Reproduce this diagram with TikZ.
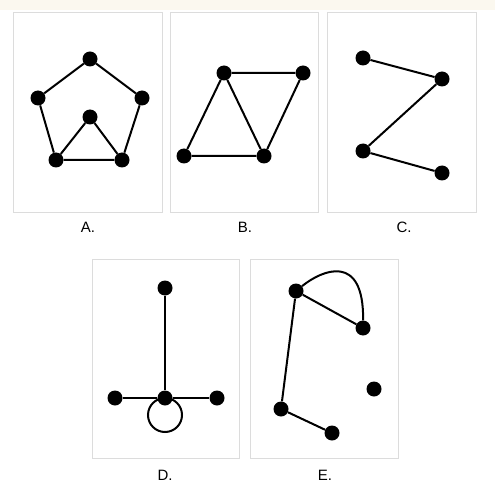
\documentclass[tikz,border=0pt]{standalone}
\usepackage{fontspec}
\setmainfont{Liberation Sans}
\definecolor{band}{HTML}{FBF8EF}
\definecolor{frame}{HTML}{DCDCDC}
\begin{document}
\begin{tikzpicture}[x=1bp,y=-1bp,
  vtx/.style={circle,fill=black,inner sep=0pt,minimum size=15bp},
  edge/.style={line width=2bp,black},
  panel/.style={draw=frame,line width=1bp},
  lab/.style={font=\fontsize{15bp}{17bp}\selectfont,inner sep=0pt}]
\useasboundingbox (0,0) rectangle (495,498);
\fill[white] (0,0) rectangle (495,498);
\fill[band] (0,0) rectangle (495,10);
% panels
\draw[panel] (13,13) rectangle (162,212);
\draw[panel] (170,13) rectangle (318,212);
\draw[panel] (327,13) rectangle (476,212);
\draw[panel] (92,259) rectangle (239,458);
\draw[panel] (250,259) rectangle (398,458);
% A
\node[vtx] (a1) at (90,59) {};
\node[vtx] (a2) at (38,98) {};
\node[vtx] (a3) at (142,98) {};
\node[vtx] (a4) at (90,117) {};
\node[vtx] (a5) at (56,160) {};
\node[vtx] (a6) at (122,160) {};
\draw[edge] (a1) -- (a2) (a1) -- (a3) (a2) -- (a5) (a3) -- (a6) (a5) -- (a6) (a4) -- (a5) (a4) -- (a6);
\node[lab] (la) at (88,227) {A.};
% B
\node[vtx] (b1) at (224,73) {};
\node[vtx] (b2) at (303,73) {};
\node[vtx] (b3) at (184,156) {};
\node[vtx] (b4) at (264,156) {};
\draw[edge] (b1) -- (b2) (b1) -- (b3) (b1) -- (b4) (b3) -- (b4) (b2) -- (b4);
\node[lab] (lb) at (245,227) {B.};
% C
\node[vtx] (c1) at (363,58) {};
\node[vtx] (c2) at (442,79) {};
\node[vtx] (c3) at (363,151) {};
\node[vtx] (c4) at (442,173) {};
\draw[edge] (c1) -- (c2) (c2) -- (c3) (c3) -- (c4);
\node[lab] (lc) at (404,227) {C.};
% D
\node[vtx] (d1) at (165,288) {};
\node[vtx] (d2) at (165,398) {};
\node[vtx] (d3) at (115,398) {};
\node[vtx] (d4) at (217,398) {};
\draw[edge] (d1) -- (d2) (d3) -- (d2) -- (d4);
\draw[edge] (d2.center) arc[start angle=90,end angle=450,radius=17bp];
\node[lab] (ld) at (165,475) {D.};
% E
\node[vtx] (e1) at (296,291) {};
\node[vtx] (e2) at (363,328) {};
\node[vtx] (e3) at (374,389) {};
\node[vtx] (e4) at (281,409) {};
\node[vtx] (e5) at (332,433) {};
\draw[edge] (e1) -- (e2) (e1) -- (e4) (e4) -- (e5);
\draw[edge] (e1) .. controls (322,270) and (364,252) .. (e2);
\node[lab] (le) at (325,475) {E.};
\end{tikzpicture}
\end{document}
